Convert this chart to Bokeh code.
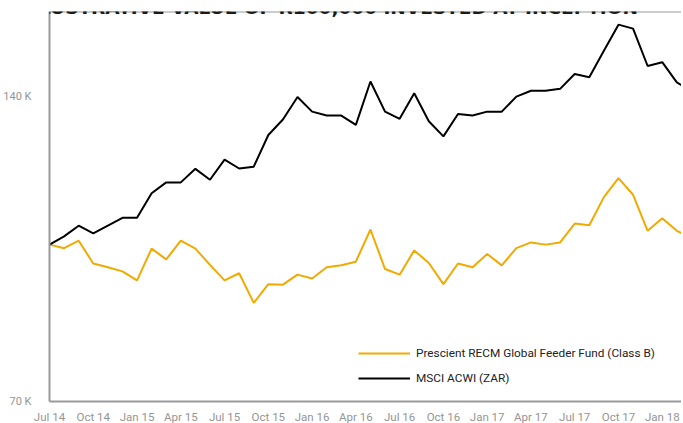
from bokeh.plotting import figure
from bokeh.models import FixedTicker, Span, Label, Legend, LegendItem, ColumnDataSource
from bokeh.embed import file_html
from bokeh.resources import INLINE

# Monthly values (R thousands), Jul 2014 onward
fund = [100.0, 99.2, 100.9, 95.8, 95.0, 94.1, 92.2, 99.1, 96.7, 100.9,
        99.1, 95.5, 92.2, 93.7, 87.6, 91.4, 91.3, 93.4, 92.6, 95.0,
        95.4, 96.2, 103.5, 94.6, 93.4, 98.7, 95.9, 91.4, 95.8, 95.0,
        97.9, 95.4, 99.2, 100.5, 100.0, 100.5, 104.9, 104.5, 111.4, 116.3,
        112.0, 103.2, 106.2, 103.2, 101.4]
msci = [100.0, 101.9, 104.4, 102.6, 104.4, 106.3, 106.3, 112.4, 115.2, 115.2,
        118.8, 115.9, 121.3, 118.9, 119.4, 128.3, 132.9, 139.9, 135.3, 134.1,
        134.1, 131.3, 144.9, 135.3, 133.1, 141.1, 132.4, 127.9, 134.6, 134.1,
        135.3, 135.3, 140.0, 141.9, 141.9, 142.5, 147.4, 146.3, 155.4, 164.9,
        163.4, 150.1, 151.4, 144.6, 141.8]
x_tick_labels = ["Jul 14", "Oct 14", "Jan 15", "Apr 15", "Jul 15", "Oct 15",
                 "Jan 16", "Apr 16", "Jul 16", "Oct 16", "Jan 17", "Apr 17",
                 "Jul 17", "Oct 17", "Jan 18"]
y_ticks = [70000, 140000]
y_tick_labels = ["70 K", "140 K"]
series_names = ["Prescient RECM Global Feeder Fund (Class B)", "MSCI ACWI (ZAR)"]
title_text = "ILLUSTRATIVE VALUE OF R100,000 INVESTED AT INCEPTION"

months = list(range(len(fund)))
src = ColumnDataSource(dict(m=months,
                            fund=[v * 1000 for v in fund],
                            msci=[v * 1000 for v in msci]))

FONT = "Roboto"
GOLD = "#F2A900"
AXIS = "#9a9a9a"
Y_TOP = 169900

p = figure(frame_width=632, frame_height=390, y_axis_type="log",
           x_range=(0, 43.32), y_range=(70000, Y_TOP),
           output_backend="svg", toolbar_location=None,
           min_border_left=43, min_border_right=0,
           min_border_top=11, min_border_bottom=22)
p.outline_line_color = None
p.background_fill_color = "white"
p.border_fill_color = "white"
p.xgrid.visible = False
p.ygrid.visible = False

x_ticks = [3 * i for i in range(len(x_tick_labels))]
p.xaxis.ticker = FixedTicker(ticks=x_ticks)
p.xaxis.major_label_overrides = {t: l for t, l in zip(x_ticks, x_tick_labels)}
p.yaxis.ticker = FixedTicker(ticks=y_ticks)
p.yaxis.major_label_overrides = {t: l for t, l in zip(y_ticks, y_tick_labels)}

for ax in (p.xaxis, p.yaxis):
    ax.axis_line_color = AXIS
    ax.axis_line_width = 2
    ax.major_tick_line_color = None
    ax.minor_tick_line_color = None
    ax.major_label_text_font = FONT
    ax.major_label_text_color = "#959595"
p.xaxis.major_label_text_font_size = "11.5px"
p.xaxis.major_label_standoff = 2
p.yaxis.major_label_text_font_size = "11px"
p.yaxis.major_label_standoff = 12

p.add_layout(Span(location=Y_TOP, dimension="width", line_color=AXIS, line_width=2))

r_fund = p.line("m", "fund", source=src, line_color=GOLD, line_width=2)
r_msci = p.line("m", "msci", source=src, line_color="black", line_width=2)

legend = Legend(items=[LegendItem(label=series_names[0], renderers=[r_fund]),
                       LegendItem(label=series_names[1], renderers=[r_msci])],
                location=(309, 13), padding=0, margin=0, spacing=5,
                glyph_width=52, glyph_height=20, label_height=20,
                label_standoff=6, label_text_font=FONT,
                label_text_font_size="11.8px", label_text_color="#222222",
                border_line_color=None, background_fill_alpha=0)
p.add_layout(legend, "center")

p.add_layout(Label(x=-2.0, y=Y_TOP * 1.0091, text=title_text, text_font="DejaVu Sans",
                   text_font_style="bold", text_font_size="18.5px",
                   text_color="#1a1a1a", text_baseline="alphabetic"))

open("out.html", "w").write(file_html(p, INLINE))
